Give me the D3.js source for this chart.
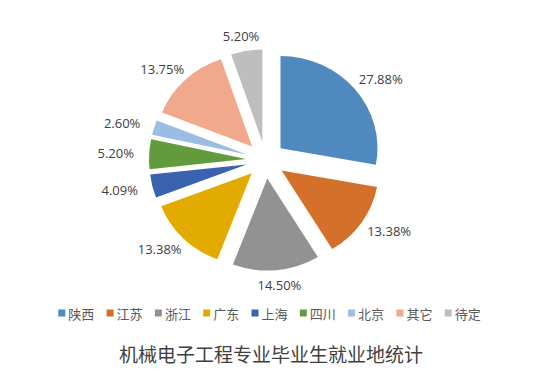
<!DOCTYPE html>
<html>
<head>
<meta charset="utf-8">
<script src="https://cdn.jsdelivr.net/npm/d3@7"></script>
<style>
  html, body { margin: 0; padding: 0; background: #fff; }
  svg { display: block; }
</style>
</head>
<body>
<svg id="chart" width="550" height="392"></svg>
<script>
// ---- data ----
const categories = ["陕西", "江苏", "浙江", "广东", "上海", "四川", "北京", "其它", "待定"];
const values = [27.88, 13.38, 14.50, 13.38, 4.09, 5.20, 2.60, 13.75, 5.20];
const colors = ["#4F89BE", "#D4702A", "#929292", "#E3AB00", "#3A63AF", "#629B3D", "#9ABDE3", "#F0A98A", "#BEBEBE"];
const title = "机械电子工程专业毕业生就业地统计";

// ---- layout ----
const W = 550, H = 392;
const cx = 265.5, cy = 160;
const R = 97, explode = 19.5, scaleY = 0.95;
const labelRx = 150, labelRy = 126;

const svg = d3.select("#chart");
svg.append("rect").attr("width", W).attr("height", H).attr("fill", "#fff");

const pie = d3.pie().sort(null).value(d => d)(values);
const arc = d3.arc().innerRadius(0).outerRadius(R);

const g = svg.append("g").attr("transform", `translate(${cx},${cy}) scale(1,${scaleY})`);
g.selectAll("path")
  .data(pie)
  .join("path")
  .attr("d", arc)
  .attr("fill", (d, i) => colors[i])
  .attr("transform", d => {
    const a = (d.startAngle + d.endAngle) / 2;
    return `translate(${explode * Math.sin(a)},${-explode * Math.cos(a)})`;
  });

// ---- labels ----
svg.append("g").selectAll("text")
  .data(pie)
  .join("text")
  .attr("x", d => cx + labelRx * Math.sin((d.startAngle + d.endAngle) / 2))
  .attr("y", d => cy - labelRy * Math.cos((d.startAngle + d.endAngle) / 2))
  .attr("text-anchor", "middle")
  .attr("dominant-baseline", "central")
  .attr("font-family", "'Open Sans', sans-serif")
  .attr("font-size", 13)
  .attr("fill", "#404040")
  .text(d => d.value.toFixed(2) + "%");

// ---- legend ----
const legX = 58.3, legY = 313, legStep = 48.3;
const leg = svg.append("g").selectAll("g")
  .data(categories)
  .join("g")
  .attr("transform", (d, i) => `translate(${legX + i * legStep},${legY})`);
leg.append("rect")
  .attr("x", 0).attr("y", -3.5).attr("width", 7).attr("height", 7)
  .attr("fill", (d, i) => colors[i]);
leg.append("text")
  .attr("x", 10).attr("y", 0)
  .attr("dominant-baseline", "central")
  .attr("font-family", "'Noto Sans CJK SC', sans-serif")
  .attr("font-size", 13)
  .attr("fill", "#595959")
  .text(d => d);

// ---- title ----
svg.append("text")
  .attr("x", 271).attr("y", 353)
  .attr("text-anchor", "middle")
  .attr("dominant-baseline", "central")
  .attr("font-family", "'Noto Sans CJK SC', sans-serif")
  .attr("font-size", 19)
  .attr("fill", "#404040")
  .text(title);
</script>
</body>
</html>
